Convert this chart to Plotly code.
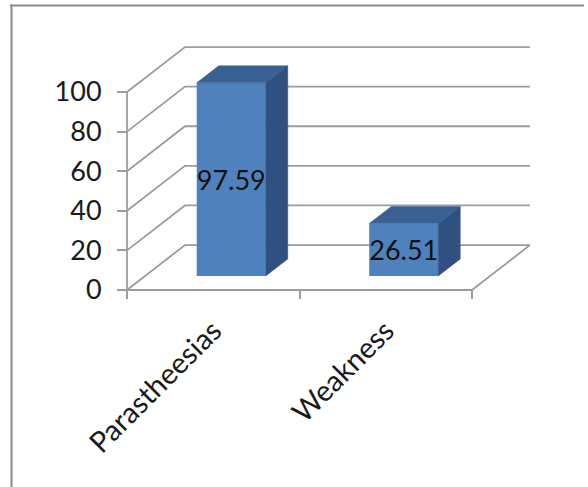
import plotly.graph_objects as go

# ---- data ----
categories = ["Parastheesias", "Weakness"]
values = [97.59, 26.51]
y_ticks = [0, 20, 40, 60, 80, 100]

# ---- pseudo-3D geometry / style ----
DX = 0.336      # full depth offset in category units
DY = 22.7       # full depth offset in value units
Z0, Z1 = 0.31, 0.69   # bar front/back depth fractions
BAR_W = 0.4
FRONT = "#4F81BD"
TOP = "#3A6194"
SIDE = "#2F5080"
GRID = "#9C9C9C"
FONT = "Lato"

n = len(categories)
xs = list(range(n))
x_left, x_right = -0.5, n - 0.5

fig = go.Figure()

# top and side faces
ddx = (Z1 - Z0) * DX
ddy = (Z1 - Z0) * DY
for i, v in zip(xs, values):
    x0 = i - BAR_W / 2 + Z0 * DX
    x1 = x0 + BAR_W
    yb = Z0 * DY
    yt = yb + v
    fig.add_trace(go.Scatter(
        x=[x0, x1, x1 + ddx, x0 + ddx, x0],
        y=[yt, yt, yt + ddy, yt + ddy, yt],
        fill="toself", fillcolor=TOP, mode="lines",
        line=dict(width=0.5, color=TOP), hoverinfo="skip", showlegend=False))
    fig.add_trace(go.Scatter(
        x=[x1, x1, x1 + ddx, x1 + ddx, x1],
        y=[yb, yt, yt + ddy, yb + ddy, yb],
        fill="toself", fillcolor=SIDE, mode="lines",
        line=dict(width=0.5, color=SIDE), hoverinfo="skip", showlegend=False))

# front faces
fig.add_trace(go.Bar(
    x=xs, y=values, base=[Z0 * DY] * n,
    width=BAR_W, offset=-BAR_W / 2 + Z0 * DX,
    marker=dict(color=FRONT, line=dict(width=0)),
    text=[f"{v:.2f}" for v in values],
    textposition="inside", insidetextanchor="middle",
    textangle=0, constraintext="none",
    textfont=dict(family=FONT, size=27, color="#111111"),
    showlegend=False, hoverinfo="skip"))

# gridlines / walls as shapes below traces
shapes = []
for t in y_ticks:
    path = (f"M {x_left},{t} L {x_left + DX},{t + DY} L {x_right + DX},{t + DY}")
    shapes.append(dict(type="path", path=path, xref="x", yref="y",
                       line=dict(color=GRID, width=1.8), layer="below"))
# floor front edge and right edge
shapes.append(dict(type="path",
                   path=f"M {x_left},0 L {x_right},0 L {x_right + DX},{DY}",
                   xref="x", yref="y", line=dict(color=GRID, width=1.8), layer="below"))
# vertical value axis line
shapes.append(dict(type="line", x0=x_left, x1=x_left, y0=min(y_ticks) - 2, y1=max(y_ticks),
                   xref="x", yref="y", line=dict(color=GRID, width=1.8), layer="below"))
# outer frame (top and left edges)
shapes.append(dict(type="line", xref="paper", yref="paper",
                   x0=10 / 588, x1=584 / 588, y0=1 - 5.5 / 487, y1=1 - 5.5 / 487,
                   line=dict(color="#8C8C8C", width=2)))
shapes.append(dict(type="line", xref="paper", yref="paper",
                   x0=11.5 / 588, x1=11.5 / 588, y0=0, y1=1 - 4.5 / 487,
                   line=dict(color="#8C8C8C", width=2)))

# pixel mapping of the plot
PX_CAT = 172.5
PX_UNIT = 1.98
AX_X = 127.0
AX_Y = 290.0
W, H = 588, 487

xr = [x_left - AX_X / PX_CAT, x_left + (W - AX_X) / PX_CAT]
yr = [-(H - AX_Y) / PX_UNIT, AX_Y / PX_UNIT]

fig.update_layout(
    width=W, height=H,
    margin=dict(l=0, r=0, t=0, b=0),
    paper_bgcolor="white", plot_bgcolor="white",
    shapes=shapes,
    showlegend=False,
    xaxis=dict(range=xr, anchor="free", position=(H - AX_Y) / H,
               tickmode="array", tickvals=xs, ticktext=categories,
               ticks="", tickangle=-45, showgrid=False, zeroline=False,
               showline=False, ticklabelstandoff=17,
               tickfont=dict(family=FONT, size=29, color="#1a1a1a"),
               minor=dict(tickmode="array", tickvals=[x_left + k for k in range(n + 1)],
                          ticks="outside", ticklen=8, tickcolor=GRID, tickwidth=1.8,
                          showgrid=False)),
    yaxis=dict(range=yr, anchor="free", position=AX_X / W,
               tickmode="array", tickvals=y_ticks,
               ticks="outside", ticklen=10, tickcolor=GRID, tickwidth=1.8,
               showgrid=False, zeroline=False, showline=False,
               ticklabelstandoff=10,
               tickfont=dict(family=FONT, size=27, color="#1a1a1a")),
)

fig.write_html("out.html")
